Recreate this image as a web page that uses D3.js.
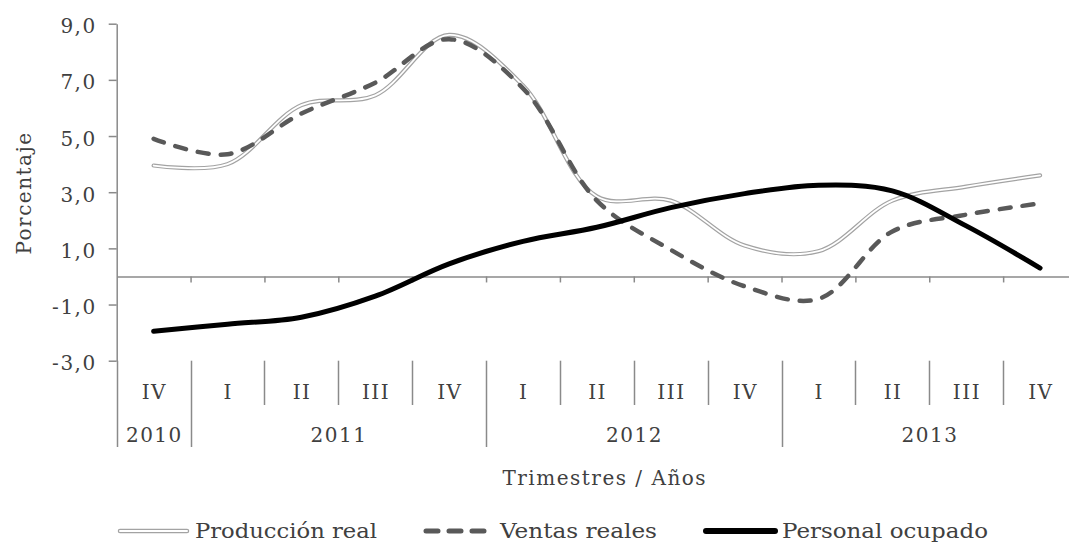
<!DOCTYPE html>
<html>
<head>
<meta charset="utf-8">
<script src="https://cdn.jsdelivr.net/npm/d3@7"></script>
<style>
  html, body { margin: 0; padding: 0; background: #fff; }
  svg { display: block; }
</style>
</head>
<body>
<svg id="chart" width="1069" height="543"></svg>
<script>
// Quarterly growth rates (%), Q4 2010 – Q4 2013
const quarters   = ["IV", "I", "II", "III", "IV", "I", "II", "III", "IV", "I", "II", "III", "IV"];
const yearLabels = ["2010", "2011", "2012", "2013"];
const yearSpans  = [1, 4, 4, 4];

const produccion = [3.95, 4.0, 6.1, 6.45, 8.6, 6.8, 2.85, 2.7, 1.1, 0.9, 2.7, 3.2, 3.6];
const ventas     = [4.9, 4.35, 5.8, 6.9, 8.45, 6.7, 2.7, 0.95, -0.35, -0.8, 1.6, 2.2, 2.6];
const personal   = [-1.95, -1.7, -1.45, -0.7, 0.45, 1.25, 1.75, 2.45, 2.95, 3.25, 3.05, 1.8, 0.3];

const yTicks      = [-3, -1, 1, 3, 5, 7, 9];
const seriesNames = ["Producción real", "Ventas reales", "Personal ocupado"];
const yTitle      = "Porcentaje";
const xTitle      = "Trimestres / Años";

(function draw() {
  const W = 1069, H = 543;
  const plotLeft = 116.7, plotRight = 1077, plotTop = 23.7, plotBottom = 360.7;
  const axisColor = "#8a8a8a";
  const textColor = "#404040";
  const font = "'DejaVu Serif', serif";

  const svg = d3.select("#chart");
  svg.append("rect").attr("width", W).attr("height", H).attr("fill", "#fff");

  const x = d3.scaleBand().domain(d3.range(quarters.length)).range([plotLeft, plotRight]).padding(0);
  const xEdge = d3.scaleLinear().domain([0, quarters.length]).range([plotLeft, plotRight]);
  const y = d3.scaleLinear().domain([-3, 9]).range([plotBottom, plotTop]);

  const locale = d3.formatLocale({ decimal: ",", thousands: ".", grouping: [3], currency: ["", ""], minus: "-" });
  const fmt = locale.format(".1f");

  // Y axis
  const yAxis = svg.append("g")
    .attr("transform", `translate(${plotLeft},0)`)
    .call(d3.axisLeft(y).tickValues(yTicks).tickSize(8).tickSizeOuter(0).tickFormat(fmt));
  yAxis.selectAll("path, line").attr("stroke", axisColor).attr("stroke-width", 1.5);
  yAxis.selectAll("text")
    .attr("x", -20)
    .attr("dy", null)
    .attr("y", 9)
    .attr("fill", textColor)
    .style("font-family", font)
    .style("font-size", "20px")
    .style("letter-spacing", "1.5px");

  // Zero line with category ticks
  const xAxis = svg.append("g")
    .attr("transform", `translate(0,${y(0)})`)
    .call(d3.axisBottom(xEdge).tickValues(d3.range(1, quarters.length)).tickSize(6).tickSizeOuter(0).tickFormat(""));
  xAxis.selectAll("path, line").attr("stroke", axisColor).attr("stroke-width", 1.5);

  // Category separators below the plot
  const yearStarts = [0];
  yearSpans.forEach((s, i) => yearStarts.push(yearStarts[i] + s));
  svg.append("g").selectAll("line")
    .data(d3.range(0, quarters.length + 1))
    .join("line")
    .attr("x1", d => Math.round(xEdge(d)) + 0.5)
    .attr("x2", d => Math.round(xEdge(d)) + 0.5)
    .attr("y1", plotBottom)
    .attr("y2", d => yearStarts.includes(d) ? 447 : 405)
    .attr("stroke", axisColor)
    .attr("stroke-width", 1.5);

  const labelStyle = sel => sel
    .attr("fill", textColor)
    .style("font-family", font)
    .style("font-size", "20px")
    .style("letter-spacing", "1.5px")
    .attr("text-anchor", "middle");

  // Quarter labels
  svg.append("g").selectAll("text")
    .data(quarters)
    .join("text")
    .attr("x", (d, i) => x(i) + x.bandwidth() / 2 + 0.75)
    .attr("y", 399)
    .text(d => d)
    .call(labelStyle);

  // Year labels
  svg.append("g").selectAll("text")
    .data(yearLabels)
    .join("text")
    .attr("x", (d, i) => (xEdge(yearStarts[i]) + xEdge(yearStarts[i + 1])) / 2 + 0.75)
    .attr("y", 442)
    .text(d => d)
    .call(labelStyle);

  // Axis titles
  svg.append("text")
    .attr("x", 604.75)
    .attr("y", 485)
    .text(xTitle)
    .call(labelStyle);

  svg.append("text")
    .attr("transform", "translate(31,193) rotate(-90)")
    .text(yTitle)
    .call(labelStyle);

  // Series lines
  const line = d3.line()
    .x((d, i) => x(i) + x.bandwidth() / 2)
    .y(d => y(d))
    .curve(d3.curveCatmullRom.alpha(0.5));

  const plot = svg.append("g").attr("fill", "none").attr("stroke-linecap", "round").attr("stroke-linejoin", "round");

  // Producción real: double line (grey outline, white core)
  plot.append("path").attr("d", line(produccion)).attr("stroke", "#a3a3a3").attr("stroke-width", 4.2);
  plot.append("path").attr("d", line(produccion)).attr("stroke", "#ffffff").attr("stroke-width", 1.8);

  // Ventas reales: dashed
  plot.append("path").attr("d", line(ventas))
    .attr("stroke", "#595959").attr("stroke-width", 4.5).attr("stroke-dasharray", "11,12");

  // Personal ocupado: solid black
  plot.append("path").attr("d", line(personal))
    .attr("stroke", "#000000").attr("stroke-width", 5);

  // Legend
  const legendY = 531;
  const legendText = [
    { x: 195, len: 182 },
    { x: 500, len: 157 },
    { x: 782, len: 206 }
  ];
  const lg = svg.append("g").attr("fill", "none").attr("stroke-linecap", "round");
  lg.append("line").attr("x1", 120).attr("x2", 187).attr("y1", legendY).attr("y2", legendY)
    .attr("stroke", "#a3a3a3").attr("stroke-width", 4.5);
  lg.append("line").attr("x1", 120).attr("x2", 187).attr("y1", legendY).attr("y2", legendY)
    .attr("stroke", "#ffffff").attr("stroke-width", 2);
  lg.append("line").attr("x1", 426).attr("x2", 486).attr("y1", legendY).attr("y2", legendY)
    .attr("stroke", "#595959").attr("stroke-width", 5).attr("stroke-dasharray", "12,11");
  lg.append("line").attr("x1", 706).attr("x2", 775).attr("y1", legendY).attr("y2", legendY)
    .attr("stroke", "#000000").attr("stroke-width", 6);

  svg.append("g").selectAll("text")
    .data(seriesNames)
    .join("text")
    .attr("x", (d, i) => legendText[i].x)
    .attr("y", 537.5)
    .attr("textLength", (d, i) => legendText[i].len)
    .attr("lengthAdjust", "spacingAndGlyphs")
    .attr("fill", textColor)
    .style("font-family", font)
    .style("font-size", "20.5px")
    .text(d => d);
})();
</script>
</body>
</html>
